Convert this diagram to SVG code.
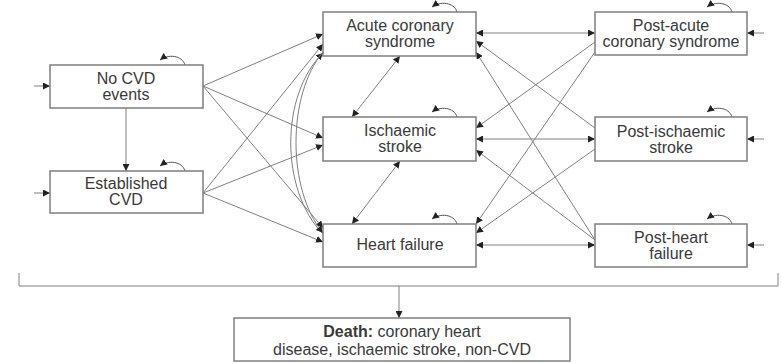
<svg xmlns="http://www.w3.org/2000/svg" width="781" height="364" viewBox="0 0 781 364">
<defs>
<marker id="ah" viewBox="0 0 10 10" refX="10" refY="5" markerWidth="7" markerHeight="7" markerUnits="userSpaceOnUse" orient="auto-start-reverse">
<path d="M0,0 L10,5 L0,10 z" fill="#222"/>
</marker>
<style>
.box{fill:#fff;stroke:#7f7f7f;stroke-width:1.5}
.t{font-family:"Liberation Sans",Arial,sans-serif;font-size:16px;fill:#3a3a3a;text-anchor:middle}
.c{fill:none;stroke:#808080;stroke-width:1}
.a{marker-end:url(#ah)}
.d{marker-start:url(#ah);marker-end:url(#ah)}
.lp{fill:none;stroke:#555;stroke-width:1;marker-end:url(#ah)}
</style>
</defs>
<rect width="781" height="364" fill="#fff"/>
<g id="connectors">
<line class="c a" x1="34" y1="86" x2="50" y2="86"/>
<line class="c a" x1="34" y1="193" x2="50" y2="193"/>
<line class="c a" x1="764" y1="33" x2="747" y2="33"/>
<line class="c a" x1="764" y1="139" x2="747" y2="139"/>
<line class="c a" x1="764" y1="245" x2="747" y2="245"/>
<line class="c a" x1="126" y1="108" x2="126" y2="171"/>
<line class="c a" x1="203" y1="86" x2="323" y2="34"/>
<line class="c a" x1="203" y1="86" x2="323" y2="138"/>
<line class="c a" x1="203" y1="86" x2="323" y2="228"/>
<line class="c a" x1="203" y1="193" x2="323" y2="44"/>
<line class="c a" x1="203" y1="193" x2="323" y2="145"/>
<line class="c a" x1="203" y1="193" x2="323" y2="242"/>
<path class="c a" d="M323,234 C280,190 280,95 323,53"/>
<path class="c a" d="M323,52 C287,95 287,190 323,233"/>
<line class="c d" x1="400" y1="56" x2="352" y2="117"/>
<line class="c d" x1="400" y1="161" x2="352" y2="224"/>
<line class="c d" x1="476" y1="33" x2="595" y2="33"/>
<line class="c d" x1="476" y1="139" x2="595" y2="139"/>
<line class="c d" x1="476" y1="245" x2="595" y2="245"/>
<line class="c a" x1="595" y1="42" x2="476" y2="128"/>
<line class="c a" x1="595" y1="52" x2="476" y2="224"/>
<line class="c a" x1="595" y1="128" x2="476" y2="41"/>
<line class="c a" x1="595" y1="149" x2="476" y2="233"/>
<line class="c a" x1="595" y1="240" x2="476" y2="52"/>
<line class="c a" x1="595" y1="240" x2="476" y2="150"/>
<path class="lp" d="M185,65 C182,55 168,54 160,60"/>
<path class="lp" d="M185,171 C182,161 168,160 160,166"/>
<path class="lp" d="M457,12 C454,2 440,1 432,7"/>
<path class="lp" d="M457,117 C454,107 440,106 432,112"/>
<path class="lp" d="M457,224 C454,214 440,213 432,219"/>
<path class="lp" d="M732,12 C729,2 715,1 707,7"/>
<path class="lp" d="M732,117 C729,107 715,106 707,112"/>
<path class="lp" d="M732,224 C729,214 715,213 707,219"/>
<path class="c" d="M19,273 V286 H778 V273" stroke="#666"/>
<line class="c a" x1="399" y1="286" x2="399" y2="318" stroke="#555"/>
</g>
<g id="no-cvd">
<rect class="box" x="50" y="65" width="153" height="43"/>
<text class="t" x="126" y="84">No CVD</text>
<text class="t" x="126" y="100">events</text>
</g>
<g id="established-cvd">
<rect class="box" x="50" y="171" width="153" height="42"/>
<text class="t" x="126" y="189">Established</text>
<text class="t" x="126" y="205">CVD</text>
</g>
<g id="acs">
<rect class="box" x="323" y="12" width="153" height="44"/>
<text class="t" x="400" y="31">Acute coronary</text>
<text class="t" x="400" y="47">syndrome</text>
</g>
<g id="ischaemic-stroke">
<rect class="box" x="323" y="117" width="153" height="44"/>
<text class="t" x="400" y="136">Ischaemic</text>
<text class="t" x="400" y="152">stroke</text>
</g>
<g id="heart-failure">
<rect class="box" x="323" y="224" width="153" height="43"/>
<text class="t" x="400" y="250">Heart failure</text>
</g>
<g id="post-acs">
<rect class="box" x="595" y="12" width="152" height="43"/>
<text class="t" x="671" y="31">Post-acute</text>
<text class="t" x="671" y="47">coronary syndrome</text>
</g>
<g id="post-ischaemic-stroke">
<rect class="box" x="595" y="117" width="152" height="44"/>
<text class="t" x="671" y="137">Post-ischaemic</text>
<text class="t" x="671" y="153">stroke</text>
</g>
<g id="post-heart-failure">
<rect class="box" x="595" y="224" width="152" height="43"/>
<text class="t" x="671" y="243">Post-heart</text>
<text class="t" x="671" y="259">failure</text>
</g>
<g id="death">
<rect class="box" x="234" y="318" width="336" height="43"/>
<text class="t" x="402" y="337"><tspan font-weight="bold">Death:</tspan> coronary heart</text>
<text class="t" x="402" y="355">disease, ischaemic stroke, non-CVD</text>
</g>
</svg>
